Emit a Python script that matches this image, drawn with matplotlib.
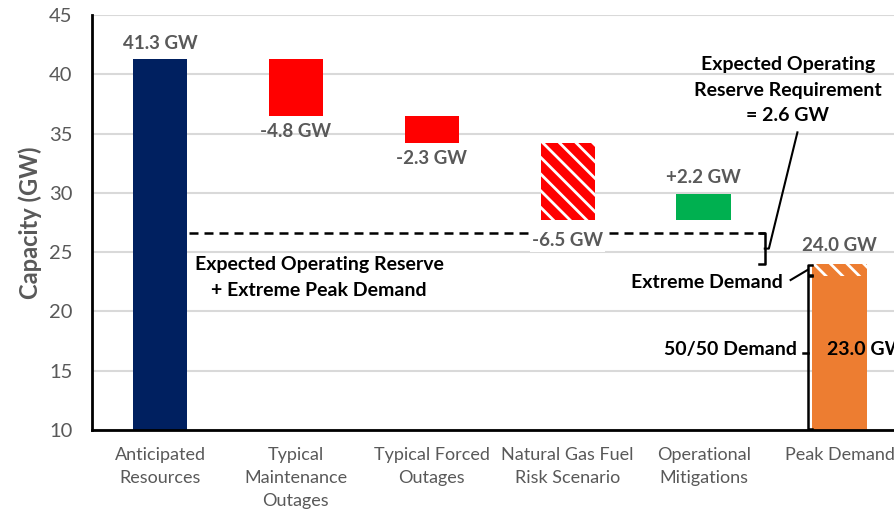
"""Waterfall of capacity vs peak demand."""

import matplotlib.pyplot as plt
import numpy as np

plt.rcParams["font.family"] = ["Lato", "DejaVu Sans"]
plt.rcParams["hatch.linewidth"] = 2.0

categories = [
    "Anticipated\nResources",
    "Typical\nMaintenance\nOutages",
    "Typical Forced\nOutages",
    "Natural Gas Fuel\nRisk Scenario",
    "Operational\nMitigations",
    "Peak Demand",
]
steps = [41.3, -4.8, -2.3, -6.5, 2.2]
peak_5050 = 23.0
peak_extreme = 24.0
reserve_req = 2.6
y_ticks = [10, 15, 20, 25, 30, 35, 40, 45]

NAVY = "#002060"
RED = "#FF0000"
GREEN = "#00B050"
ORANGE = "#ED7D31"
GREY = "#595959"

fig = plt.figure(figsize=(8.95, 5.09), dpi=100)
ax = fig.add_axes([92 / 895, 79 / 509, 815.5 / 895, 415 / 509])

tops = np.cumsum(steps)
bottoms = tops - np.array(steps)
colors = [NAVY, RED, RED, RED, GREEN]
hatches = [None, None, None, "\\\\", None]

for i, step in enumerate(steps):
    ax.bar(
        i, step, 0.4, bottom=bottoms[i], color=colors[i],
        hatch=hatches[i], edgecolor="white" if hatches[i] else colors[i],
        linewidth=0, zorder=3,
    )
    if i == 0:
        label, off = f"{step:.1f} GW", 11
    elif step < 0:
        label, off = f"{step:.1f} GW", -11
    else:
        label, off = f"+{step:.1f} GW", 12
    if i == 3:
        off = -15
    ax.annotate(
        label, (i, tops[i]), xytext=(0, off), textcoords="offset points",
        ha="center", va="center", fontsize=13.5, fontweight="bold", color=GREY,
        zorder=6,
        bbox=dict(facecolor="white", edgecolor="none", pad=1.5) if i == 3 else None,
    )

# peak demand bar: 50/50 part plus the extreme demand part on top
ax.bar(5, peak_5050, 0.4, color=ORANGE, linewidth=0, zorder=3)
ax.bar(5, peak_extreme - peak_5050, 0.4, bottom=peak_5050, color=ORANGE,
       hatch="\\\\", edgecolor="white", linewidth=0, zorder=3)
ax.annotate(f"{peak_extreme:.1f} GW", (5, peak_extreme), xytext=(0, 13),
            textcoords="offset points", ha="center", va="center",
            fontsize=13.5, fontweight="bold", color=GREY)
ax.text(4.91, (10 + peak_5050) / 2 + 0.25, f"{peak_5050:.1f} GW", ha="left",
        va="center", fontsize=14, fontweight="bold", color="black", zorder=5)

# dashed line: expected operating reserve + extreme peak demand
level = peak_extreme + reserve_req
ax.plot([0.21, 4.45], [level, level], color="black", lw=1.8,
        ls=(0, (3.6, 2.4)), zorder=4)
ax.text(1.17, 22.86, "Expected Operating Reserve\n+ Extreme Peak Demand",
        ha="center", va="center", fontsize=14, fontweight="bold",
        linespacing=1.6)

# bracket for the reserve requirement
bx = 4.45
mid = (level + peak_extreme) / 2
ax.plot([bx - 0.04, bx, bx, bx - 0.04], [level, level, peak_extreme, peak_extreme],
        color="black", lw=1.8, zorder=4)
ax.plot([bx, bx + 0.03, 4.69], [mid, mid, 35.1], color="black", lw=1.5)
ax.text(4.62, 38.67, f"Expected Operating\nReserve Requirement\n= {reserve_req} GW",
        ha="center", va="center", fontsize=14, fontweight="bold",
        linespacing=1.6)

# brackets for peak demand
px = 4.765
ax.plot([px + 0.035, px, px, px + 0.035], [10.05, 10.05, peak_5050 - 0.05, peak_5050 - 0.05],
        color="black", lw=1.8, zorder=4)
ax.plot([px - 0.035, px], [(10 + peak_5050) / 2] * 2, color="black", lw=1.8)
ax.plot([px + 0.035, px, px, px + 0.035],
        [peak_extreme - 0.05, peak_extreme - 0.05, peak_5050 + 0.05, peak_5050 + 0.05],
        color="black", lw=1.8, zorder=4)
ax.plot([px, 4.64], [(peak_5050 + peak_extreme) / 2, 22.65], color="black", lw=1.5)
ax.text(4.69, (10 + peak_5050) / 2 + 0.25, "50/50 Demand", ha="right", va="center",
        fontsize=14, fontweight="bold")
ax.text(4.58, 22.4, "Extreme Demand", ha="right", va="center",
        fontsize=14, fontweight="bold")

ax.set_xlim(-0.5, 5.5)
ax.set_ylim(10, 45)
ax.set_yticks(y_ticks)
ax.set_xticks(range(len(categories)))
ax.set_xticklabels(categories, linespacing=1.55)
ax.tick_params(axis="y", length=0, pad=14, labelsize=14.5, labelcolor=GREY)
ax.tick_params(axis="x", length=0, pad=12, labelsize=13, labelcolor=GREY)
ax.grid(axis="y", color="#D9D9D9", lw=1.5, zorder=0)
ax.set_axisbelow(True)
for side in ["top", "right"]:
    ax.spines[side].set_visible(False)
for side in ["left", "bottom"]:
    ax.spines[side].set_linewidth(2)
    ax.spines[side].set_zorder(5)
ax.set_ylabel("Capacity (GW)", fontsize=17, fontweight="bold", color=GREY,
              labelpad=5)

fig.savefig("out.png", dpi=100)
